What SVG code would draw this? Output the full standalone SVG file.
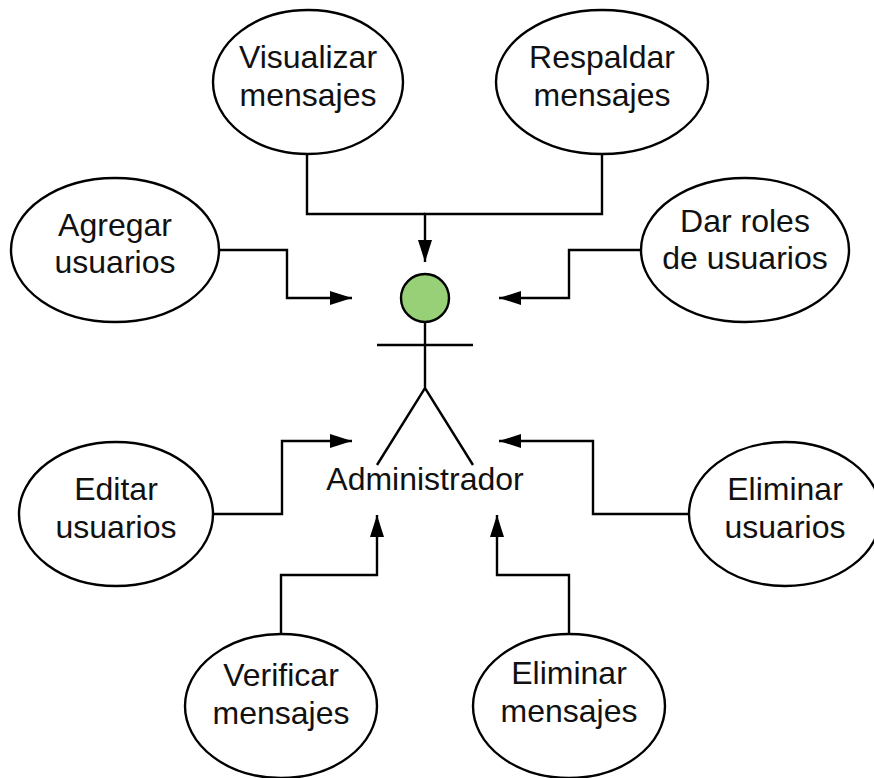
<svg xmlns="http://www.w3.org/2000/svg" width="874" height="778" viewBox="0 0 874 778">
<defs>
<marker id="ah" markerUnits="userSpaceOnUse" markerWidth="24" markerHeight="16" refX="22" refY="7" orient="auto"><path d="M0 0L22 7L0 14Z" fill="#000"/></marker>
</defs>
<style>
.n{fill:#fff;stroke:#000;stroke-width:2.4}
.c{fill:none;stroke:#000;stroke-width:2.4}
text{font-family:"Liberation Sans",Arial,sans-serif;font-size:32px;text-anchor:middle;fill:#111}
</style>
<rect width="874" height="778" fill="#fff"/>
<g id="connectors">
<path class="c" d="M307 145V214H425" />
<path class="c" d="M602 145V214H425V262" marker-end="url(#ah)"/>
<path class="c" d="M219 250H287V298H352" marker-end="url(#ah)"/>
<path class="c" d="M641 250H569V298H499" marker-end="url(#ah)"/>
<path class="c" d="M213 514H282V441H352" marker-end="url(#ah)"/>
<path class="c" d="M690 514H593V441H499" marker-end="url(#ah)"/>
<path class="c" d="M281 636V575H377V515" marker-end="url(#ah)"/>
<path class="c" d="M569 636V575H497V515" marker-end="url(#ah)"/>
</g>
<g id="visualizar"><ellipse class="n" cx="308" cy="82" rx="95" ry="72"/><text x="308" y="68">Visualizar</text><text x="308" y="106">mensajes</text></g>
<g id="respaldar"><ellipse class="n" cx="602" cy="82" rx="106" ry="72"/><text x="602" y="68">Respaldar</text><text x="602" y="106">mensajes</text></g>
<g id="agregar"><ellipse class="n" cx="115" cy="250" rx="104" ry="72"/><text x="115" y="236">Agregar</text><text x="115" y="273">usuarios</text></g>
<g id="dar-roles"><ellipse class="n" cx="745" cy="250" rx="104" ry="72"/><text x="745" y="232">Dar roles</text><text x="745" y="269">de usuarios</text></g>
<g id="editar"><ellipse class="n" cx="116" cy="514" rx="97" ry="72"/><text x="116" y="500">Editar</text><text x="116" y="538">usuarios</text></g>
<g id="eliminar-usuarios"><ellipse class="n" cx="785" cy="514" rx="96" ry="72"/><text x="785" y="500">Eliminar</text><text x="785" y="538">usuarios</text></g>
<g id="verificar"><ellipse class="n" cx="281" cy="706" rx="96" ry="72"/><text x="281" y="686">Verificar</text><text x="281" y="724">mensajes</text></g>
<g id="eliminar-mensajes"><ellipse class="n" cx="569" cy="706" rx="96" ry="72"/><text x="569" y="684">Eliminar</text><text x="569" y="722">mensajes</text></g>
<g id="administrador">
<circle cx="425" cy="298" r="24" fill="#97d077" stroke="#000" stroke-width="2.4"/>
<path class="c" d="M425 322V388M377 345H473M377 465L425 388L473 465"/>
<text x="425" y="490">Administrador</text>
</g>
</svg>
